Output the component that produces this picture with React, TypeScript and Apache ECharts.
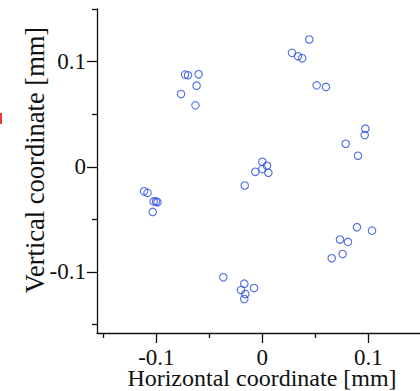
import React, { useEffect, useRef } from "react";
import * as echarts from "echarts";

const xValues: number[] = [
  -0.0729, -0.0701, -0.0601, -0.062, -0.0767, -0.0631,
  -0.1116, -0.1083, -0.1026, -0.1003, -0.0989, -0.1034,
  0.0443, 0.028, 0.0337, 0.0377, 0.0513, 0.0601,
  0.0972, 0.0966, 0.0787, 0.0903,
  0.0, 0.0044, -0.0066, 0.0, 0.0057, -0.0166,
  -0.0368, -0.017, -0.0201, -0.0078, -0.016, -0.017,
  0.0893, 0.1035, 0.0733, 0.0808, 0.0655, 0.0758,
];
const yValues: number[] = [
  0.0876, 0.087, 0.0879, 0.0771, 0.0692, 0.0584,
  -0.0233, -0.0248, -0.0329, -0.0329, -0.0338, -0.0429,
  0.121, 0.1083, 0.105, 0.1031, 0.0774, 0.0759,
  0.0362, 0.0302, 0.0219, 0.0105,
  0.0048, 0.001, -0.0048, -0.0022, -0.0057, -0.0178,
  -0.105, -0.1111, -0.1171, -0.1152, -0.121, -0.1257,
  -0.0574, -0.0607, -0.0692, -0.0714, -0.087, -0.0829,
];
const majorTicks: number[] = [-0.1, 0, 0.1];
const minorTicksX: number[] = [-0.15, -0.05, 0.05];
const minorTicksY: number[] = [-0.15, -0.05, 0.05, 0.15];
const xTitle = "Horizontal coordinate [mm]";
const yTitle = "Vertical coordinate [mm]";

const FONT = "Liberation Serif";
const AXIS_COLOR = "#111";

export default function App() {
  const ref = useRef<HTMLDivElement>(null);
  useEffect(() => {
    if (!ref.current) return;
    const chart = echarts.init(ref.current, undefined, { renderer: "svg" });
    const xMin = -0.156;
    const xMax = 0.1488;
    const yMin = -0.158;
    const yMax = 0.15;
    const fmt = (v: number) => (Math.abs(v) < 1e-9 ? "0" : String(Math.round(v * 10) / 10));
    const tickStyle = { color: AXIS_COLOR, width: 1.3 };
    const mkLabel = (margin: number) => ({
      show: true,
      customValues: majorTicks,
      formatter: fmt,
      margin,
      fontFamily: FONT,
      fontSize: 23,
      color: "#111",
      lineHeight: 16,
    });
    const mkMinor = (pos: string, ticks: number[], min: number, max: number) => ({
      type: "value",
      min,
      max,
      position: pos,
      axisLine: { show: false, onZero: false },
      splitLine: { show: false },
      axisTick: { show: true, length: 5, customValues: ticks, lineStyle: tickStyle },
      axisLabel: { show: false },
    });
    const mkMain = (pos: string, min: number, max: number, margin: number) => ({
      type: "value",
      min,
      max,
      position: pos,
      axisLine: { show: true, onZero: false, lineStyle: tickStyle },
      splitLine: { show: false },
      axisTick: { show: true, length: 10, customValues: majorTicks, lineStyle: tickStyle },
      axisLabel: mkLabel(margin),
    });
    const data = xValues.map((x, i) => [x, yValues[i]]);
    chart.setOption({
      animation: false,
      backgroundColor: "#fff",
      textStyle: { fontFamily: FONT },
      grid: { left: 97, top: 9, width: 323, height: 324, containLabel: false },
      xAxis: [mkMain("bottom", xMin, xMax, 16), mkMinor("bottom", minorTicksX, xMin, xMax)],
      yAxis: [mkMain("left", yMin, yMax, 11), mkMinor("left", minorTicksY, yMin, yMax)],
      series: [
        {
          type: "scatter",
          xAxisIndex: 0,
          yAxisIndex: 0,
          data,
          symbol: "circle",
          symbolSize: 7.5,
          itemStyle: { color: "transparent", borderColor: "#2448e0", borderWidth: 1.1 },
          silent: true,
        },
      ],
      graphic: [
        {
          type: "text",
          x: 262,
          y: 378,
          style: { text: xTitle, fontFamily: FONT, fontSize: 24, lineHeight: 18, fill: "#111", align: "center", verticalAlign: "middle" },
        },
        {
          type: "text",
          x: 35,
          y: 160,
          rotation: Math.PI / 2,
          style: { text: yTitle, fontFamily: FONT, fontSize: 26.5, fill: "#111", align: "center", verticalAlign: "middle" },
        },
        {
          type: "rect",
          shape: { x: 0, y: 113, width: 2, height: 11 },
          style: { fill: "#e83a3a" },
        },
      ],
    });
    return () => chart.dispose();
  }, []);
  return <div ref={ref} style={{ position: "fixed", left: 0, top: 0, width: 420, height: 391 }} />;
}
